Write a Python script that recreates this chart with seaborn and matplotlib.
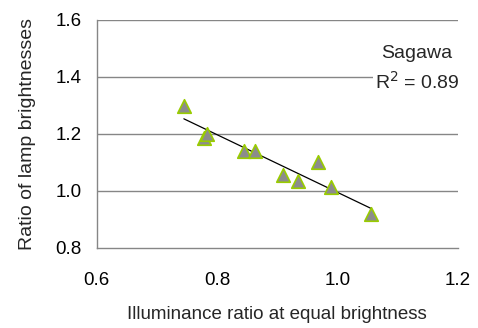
import numpy as np
import pandas as pd
import matplotlib
matplotlib.use("Agg")
import matplotlib.pyplot as plt
import seaborn as sns

illuminance_ratio = [0.745, 0.778, 0.784, 0.845, 0.863, 0.910, 0.934, 0.967, 0.989, 1.055]
brightness_ratio = [1.298, 1.185, 1.200, 1.141, 1.141, 1.056, 1.036, 1.100, 1.013, 0.919]
x_ticks = [0.6, 0.8, 1.0, 1.2]
y_ticks = [0.8, 1.0, 1.2, 1.4, 1.6]
series_name = "Sagawa"
r_squared = 0.89

sns.set_theme(style="white")
plt.rcParams['font.family'] = ['Liberation Sans', 'DejaVu Sans']

df = pd.DataFrame({"x": illuminance_ratio, "y": brightness_ratio})

fig = plt.figure(figsize=(4.78, 3.28), dpi=100)
ax = fig.add_axes([96.5 / 478, 1 - 248 / 328, (458 - 96.5) / 478, (248 - 19.5) / 328])

grid_c = "#868686"
for yt in y_ticks[1:]:
    ax.axhline(yt, color=grid_c, lw=1.0, zorder=0)

coef = np.polyfit(df["x"], df["y"], 1)
xs = np.array([df["x"].min(), df["x"].max()])
ax.plot(xs, np.polyval(coef, xs), color="black", lw=0.9, zorder=2)

sns.scatterplot(data=df, x="x", y="y", ax=ax, marker="^", s=95,
                color="#8c8c8c", edgecolor="#99cc00", linewidth=1.2, zorder=3)

ax.set_xlim(0.6, 1.2)
ax.set_ylim(0.8, 1.6)
ax.set_xticks(x_ticks)
ax.set_yticks(y_ticks)
ax.set_xticklabels([f"{v:.1f}" for v in x_ticks], fontsize=13.5)
ax.set_yticklabels([f"{v:.1f}" for v in y_ticks], fontsize=13.5)
for s in ["top", "right"]:
    ax.spines[s].set_visible(False)
for s in ["left", "bottom"]:
    ax.spines[s].set_color(grid_c)
    ax.spines[s].set_linewidth(1.0)
ax.tick_params(axis="both", which="both", length=4.5, width=1.0, color=grid_c,
               labelcolor="black", direction="out")
ax.tick_params(axis="y", pad=6)
ax.tick_params(axis="x", pad=13)

ax.set_xlabel("Illuminance ratio at equal brightness", fontsize=13.5, labelpad=12)
ax.set_ylabel("Ratio of lamp brightnesses", fontsize=14, labelpad=14.5)

ax.text(1.132, 1.48, series_name, ha="center", va="center", fontsize=14, zorder=4)
ax.text(1.132, 1.381, f"R$^2$ = {r_squared:.2f}", ha="center", va="center",
        fontsize=14, zorder=4,
        bbox=dict(facecolor="white", edgecolor="none", pad=1.5))

fig.savefig("out.png", dpi=100)
